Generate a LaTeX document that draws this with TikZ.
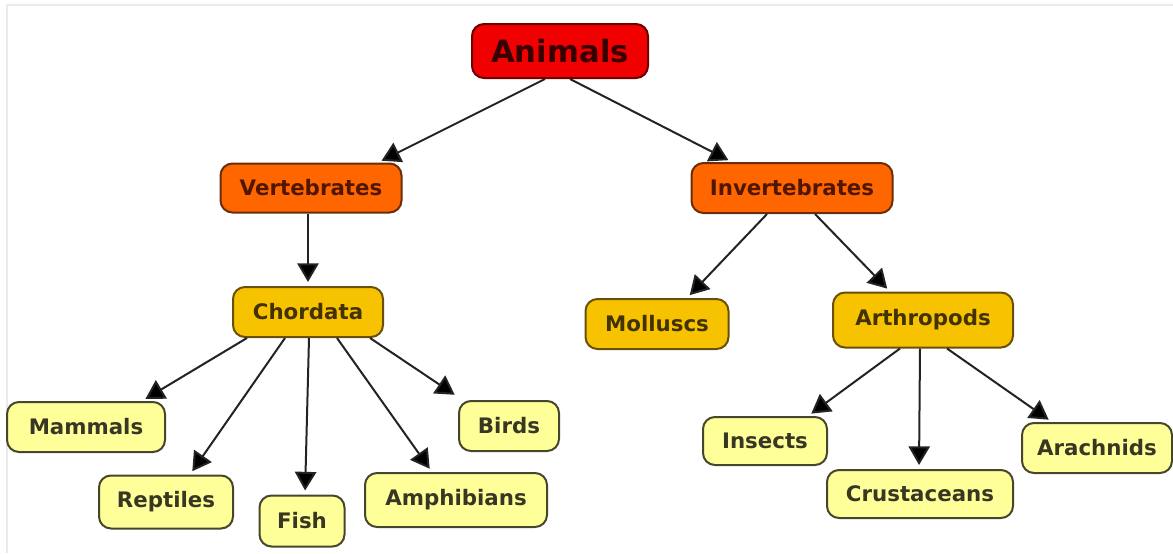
\documentclass[tikz,border=0pt]{standalone}
\usepackage{fontspec}
\setmainfont{DejaVu Sans}
\usepackage{tikz}
\usetikzlibrary{arrows.meta, calc}
\definecolor{rootred}{RGB}{240, 0, 0}
\definecolor{rootedge}{RGB}{110, 0, 0}
\definecolor{roottext}{RGB}{55, 0, 0}
\definecolor{kingorange}{RGB}{255, 102, 0}
\definecolor{kingedge}{RGB}{105, 45, 10}
\definecolor{kingtext}{RGB}{80, 22, 0}
\definecolor{groupgold}{RGB}{247, 195, 0}
\definecolor{groupedge}{RGB}{105, 80, 10}
\definecolor{grouptext}{RGB}{65, 50, 0}
\definecolor{leafyellow}{RGB}{255, 255, 153}
\definecolor{leafedge}{RGB}{70, 70, 45}
\definecolor{leaftext}{RGB}{55, 55, 35}
\definecolor{linkgray}{RGB}{35, 35, 35}

\begin{document}
\begin{tikzpicture}[x=0.75pt, y=-0.75pt,
    concept/.style={draw, line width=1.5pt, rounded corners=9pt,
        inner sep=0pt, font=\fontsize{16}{18}\selectfont\bfseries},
    rootbox/.style={concept, fill=rootred, draw=rootedge, text=roottext,
        font=\fontsize{23}{26}\selectfont\bfseries},
    kingbox/.style={concept, fill=kingorange, draw=kingedge, text=kingtext},
    groupbox/.style={concept, fill=groupgold, draw=groupedge, text=grouptext},
    leafbox/.style={concept, fill=leafyellow, draw=leafedge, text=leaftext},
    link/.style={linkgray, line width=1.5pt, shorten >=3pt,
        -{Triangle[length=14pt, width=16pt, fill=black]}}]
    \useasboundingbox (0,0) rectangle (1173,553);
    \draw[black!8, line width=1.5pt] (7,553) -- (7,5) -- (1173,5);

    % top
    \node[rootbox, minimum width=132pt, minimum height=40.5pt]
        (animals) at (560,51) {Animals};
    \node[kingbox, minimum width=135.75pt, minimum height=36.75pt]
        (vert) at (311,188) {Vertebrates};
    \node[kingbox, minimum width=150.75pt, minimum height=37.5pt]
        (invert) at (792,188) {Invertebrates};

    % middle
    \node[groupbox, minimum width=112.5pt, minimum height=37.5pt]
        (chord) at (308,312) {Chordata};
    \node[groupbox, minimum width=107.25pt, minimum height=37.5pt]
        (moll) at (657,324) {Molluscs};
    \node[groupbox, minimum width=135pt, minimum height=41.25pt]
        (arthro) at (923,320) {Arthropods};

    % leaves
    \node[leafbox, minimum width=118.5pt, minimum height=37.5pt]
        (mammals) at (86,427) {Mammals};
    \node[leafbox, minimum width=100.5pt, minimum height=39.75pt]
        (reptiles) at (166,502) {Reptiles};
    \node[leafbox, minimum width=63.75pt, minimum height=38.25pt]
        (fish) at (302,521) {Fish};
    \node[leafbox, minimum width=136.5pt, minimum height=40.5pt]
        (amphib) at (456,500) {Amphibians};
    \node[leafbox, minimum width=75pt, minimum height=37.5pt]
        (birds) at (509,426) {Birds};
    \node[leafbox, minimum width=93pt, minimum height=36pt]
        (insects) at (765,441) {Insects};
    \node[leafbox, minimum width=139.5pt, minimum height=36pt]
        (crust) at (920,494) {Crustaceans};
    \node[leafbox, minimum width=112.5pt, minimum height=37.5pt]
        (arach) at (1097,448) {Arachnids};

    % links
    \draw[link] ($(animals.south)+(-15,0)$) -- ($(vert.north)+(67,0)$);
    \draw[link] ($(animals.south)+(10,0)$) -- ($(invert.north)+(-60,0)$);
    \draw[link] ($(vert.south)+(-3,0)$) -- (chord.north);
    \draw[link] ($(invert.south)+(-25,0)$) -- ($(moll.north)+(30,0)$);
    \draw[link] ($(invert.south)+(23,0)$) -- ($(arthro.north)+(-33,0)$);
    \draw[link] ($(chord.south)+(-61,0)$) -- ($(mammals.north)+(56,0)$);
    \draw[link] ($(chord.south)+(-23,0)$) -- ($(reptiles.north)+(24,0)$);
    \draw[link] ($(chord.south)+(1,0)$) -- ($(fish.north)+(3,0)$);
    \draw[link] ($(chord.south)+(29,0)$) -- ($(amphib.north)+(-24,0)$);
    \draw[link] ($(chord.south)+(62,0)$) -- ($(birds.north)+(-51,-3)$);
    \draw[link] ($(arthro.south)+(-23,0)$) -- ($(insects.north)+(43,0)$);
    \draw[link] ($(arthro.south)+(-3,0)$) -- ($(crust.north)+(-1,0)$);
    \draw[link] ($(arthro.south)+(24,0)$) -- ($(arach.north)+(-45,0)$);
\end{tikzpicture}
\end{document}
